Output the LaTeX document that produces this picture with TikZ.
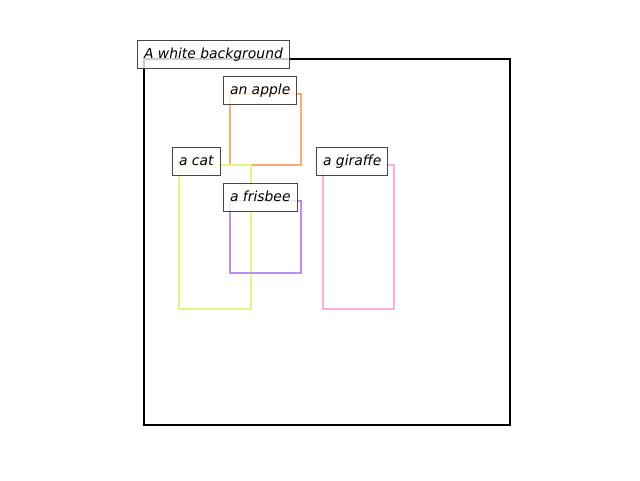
\documentclass[tikz,border=0pt]{standalone}
\usepackage{fontspec}
\setmainfont{DejaVu Sans}
\begin{document}
\begin{tikzpicture}[x=1pt,y=-1pt,
  bbox/.style={line width=2.2pt},
  lbl/.style={draw=black!72, line width=1pt, fill=white, fill opacity=0.8, text opacity=1,
    anchor=west, minimum height=28pt, inner xsep=6.5pt, inner ysep=0pt,
    text height=10pt, text depth=2pt,
    font=\fontsize{13.9}{16}\selectfont\itshape}]
\useasboundingbox (0,0) rectangle (640,480);
\definecolor{cblack}{HTML}{000000}
\definecolor{capple}{HTML}{FFAA72}
\definecolor{ccat}{HTML}{E2F77E}
\definecolor{cfris}{HTML}{BA8EF2}
\definecolor{cgir}{HTML}{FCADDB}
\draw[bbox, draw=cblack] (144,59) rectangle (510,425);
\draw[bbox, draw=capple] (230,94) rectangle (301,165);
\draw[bbox, draw=ccat] (179,165) rectangle (251,309);
\draw[bbox, draw=cfris] (230,201) rectangle (301,273);
\draw[bbox, draw=cgir] (323,165) rectangle (394,309);
\node[lbl] (lbg) at (137,54) {A white background};
\node[lbl] (lapple) at (223,90) {an apple};
\node[lbl] (lcat) at (172,161) {a cat};
\node[lbl] (lgir) at (316,161) {a giraffe};
\node[lbl] (lfris) at (223,197) {a frisbee};
\end{tikzpicture}
\end{document}
